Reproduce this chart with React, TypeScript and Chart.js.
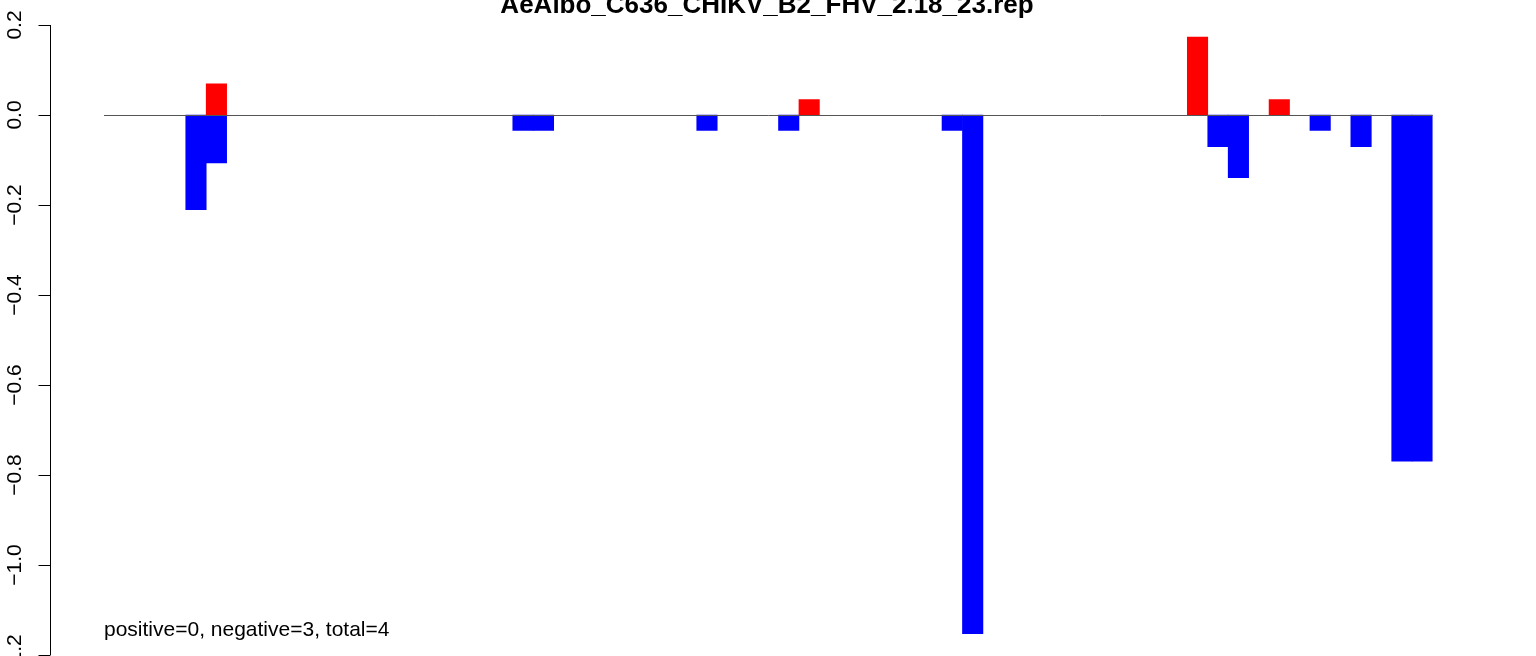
import React, { useEffect, useRef } from "react";
import { Chart, registerables } from "chart.js";

Chart.register(...registerables);

const chartTitle = "AeAlbo_C636_CHIKV_B2_FHV_2.18_23.rep";
const footnote = "positive=0, negative=3, total=4";

// 65 positions along the x axis
const categories: string[] = [
  "1", "2", "3", "4", "5", "6", "7", "8", "9", "10",
  "11", "12", "13", "14", "15", "16", "17", "18", "19", "20",
  "21", "22", "23", "24", "25", "26", "27", "28", "29", "30",
  "31", "32", "33", "34", "35", "36", "37", "38", "39", "40",
  "41", "42", "43", "44", "45", "46", "47", "48", "49", "50",
  "51", "52", "53", "54", "55", "56", "57", "58", "59", "60",
  "61", "62", "63", "64", "65",
];

// red series (positive values)
const positiveValues: number[] = [
  0, 0, 0, 0, 0, 0.069, 0, 0, 0, 0,
  0, 0, 0, 0, 0, 0, 0, 0, 0, 0,
  0, 0, 0, 0, 0, 0, 0, 0, 0, 0,
  0, 0, 0, 0, 0.0345, 0, 0, 0, 0, 0,
  0, 0, 0, 0, 0, 0, 0, 0, 0, 0,
  0, 0, 0, 0.1733, 0, 0, 0, 0.0345, 0, 0,
  0, 0, 0, 0, 0,
];

// blue series (negative values)
const negativeValues: number[] = [
  0, 0, 0, 0, -0.2105, -0.1067, 0, 0, 0, 0,
  0, 0, 0, 0, 0, 0, 0, 0, 0, 0,
  -0.0345, -0.0345, 0, 0, 0, 0, 0, 0, 0, -0.0345,
  0, 0, 0, -0.0345, 0, 0, 0, 0, 0, 0,
  0, -0.0345, -1.1526, 0, 0, 0, 0, 0, 0, 0,
  0, 0, 0, 0, -0.0704, -0.139, 0, 0, 0, -0.0345,
  0, -0.0704, 0, -0.769, -0.769,
];

const yTickValues: number[] = [0.2, 0.0, -0.2, -0.4, -0.6, -0.8, -1.0, -1.2];
const yTickLabels: string[] = ["0.2", "0.0", "\u22120.2", "\u22120.4", "\u22120.6", "\u22120.8", "\u22121.0", "\u22121.2"];

const overlayPlugin = {
  id: "rOverlay",
  afterDatasetsDraw(chart: any) {
    const { ctx, chartArea } = chart;
    const y = chart.scales.y;
    ctx.save();
    // zero line
    const y0 = Math.round(y.getPixelForValue(0)) + 0.5;
    ctx.strokeStyle = "#555555";
    ctx.lineWidth = 1;
    ctx.beginPath();
    ctx.moveTo(chartArea.left, y0);
    ctx.lineTo(chartArea.right, y0);
    ctx.stroke();

    // y axis
    const axisX = 50.5;
    const top = y.getPixelForValue(yTickValues[0]);
    const bottom = y.getPixelForValue(yTickValues[yTickValues.length - 1]);
    ctx.strokeStyle = "#000000";
    ctx.beginPath();
    ctx.moveTo(axisX, top);
    ctx.lineTo(axisX, bottom);
    ctx.stroke();
    ctx.font = "21px 'Liberation Sans', Arial, sans-serif";
    ctx.fillStyle = "#000000";
    yTickValues.forEach((v, i) => {
      const py = Math.round(y.getPixelForValue(v)) + 0.5;
      ctx.beginPath();
      ctx.moveTo(axisX, py);
      ctx.lineTo(axisX - 12, py);
      ctx.stroke();
      ctx.save();
      ctx.translate(21, y.getPixelForValue(v));
      ctx.rotate(-Math.PI / 2);
      ctx.textAlign = "center";
      ctx.textBaseline = "alphabetic";
      ctx.fillText(yTickLabels[i], 0, 0);
      ctx.restore();
    });

    // title
    ctx.font = "bold 26px 'Liberation Sans', Arial, sans-serif";
    ctx.textAlign = "center";
    ctx.textBaseline = "alphabetic";
    ctx.fillText(chartTitle, 767, 13);

    // footnote
    ctx.font = "21px 'Liberation Sans', Arial, sans-serif";
    ctx.textAlign = "left";
    ctx.fillText(footnote, 104, 636);
    ctx.restore();
  },
};

export default function App() {
  const canvasRef = useRef<HTMLCanvasElement | null>(null);

  useEffect(() => {
    const canvas = canvasRef.current;
    if (!canvas) return;
    const chart = new Chart(canvas, {
      type: "bar",
      data: {
        labels: categories,
        datasets: [
          {
            label: "positive",
            data: positiveValues.map((v) => (v === 0 ? null : v)),
            backgroundColor: "#FF0000",
            borderWidth: 0,
            barPercentage: 1,
            categoryPercentage: 1,
            grouped: false,
          },
          {
            label: "negative",
            data: negativeValues.map((v) => (v === 0 ? null : v)),
            backgroundColor: "#0000FF",
            borderWidth: 0,
            barPercentage: 1,
            categoryPercentage: 1,
            grouped: false,
          },
        ],
      },
      options: {
        responsive: false,
        animation: false,
        layout: { padding: { left: 104, right: 103.4, top: 0, bottom: 0 } },
        plugins: {
          legend: { display: false },
          tooltip: { enabled: false },
          title: { display: false },
        },
        scales: {
          x: { type: "category", display: false, offset: true, grid: { display: false } },
          y: {
            type: "linear",
            display: false,
            min: -1.20222,
            max: 0.25556,
            grid: { display: false },
          },
        },
      },
      plugins: [overlayPlugin],
    });
    return () => chart.destroy();
  }, []);

  return (
    <div style={{ position: "fixed", left: 0, top: 0, width: 1536, height: 656, background: "#ffffff" }}>
      <canvas ref={canvasRef} width={1536} height={656} style={{ display: "block" }} />
    </div>
  );
}
